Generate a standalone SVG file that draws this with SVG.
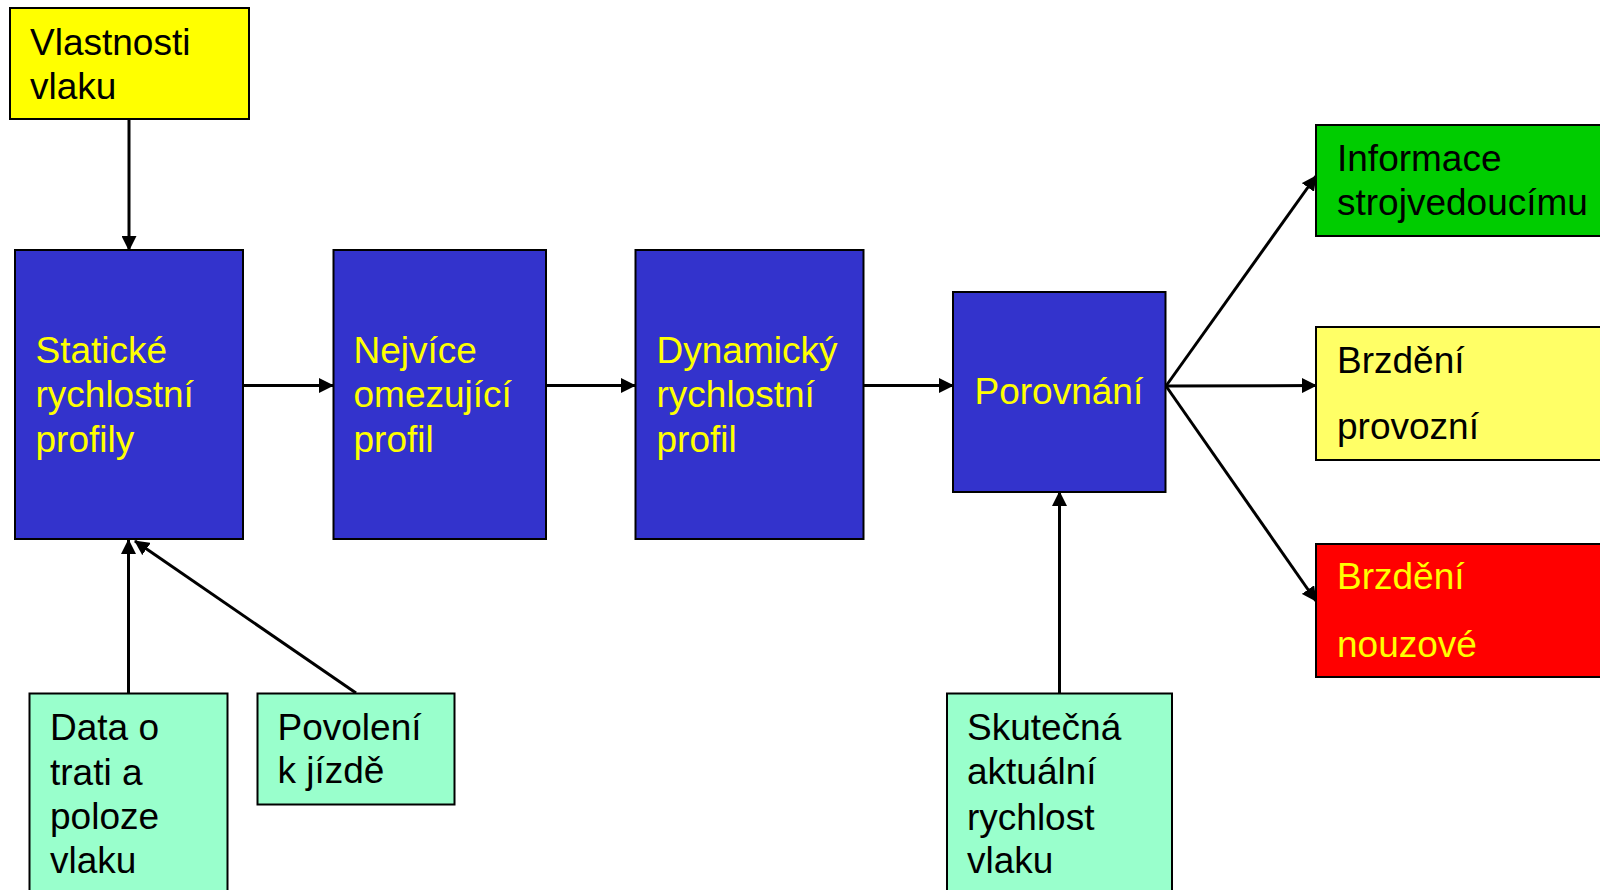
<svg xmlns="http://www.w3.org/2000/svg" width="1600" height="890" viewBox="0 0 1600 890">
<style>
.box{stroke:#000;stroke-width:2}
.t{font-family:"Liberation Sans",Arial,sans-serif;font-size:37px}
.k{fill:#000}
.y{fill:#FFFF00}
.c{stroke:#000;stroke-width:3;fill:none;marker-end:url(#ah)}
</style>
<defs>
<marker id="ah" markerUnits="userSpaceOnUse" markerWidth="15" markerHeight="15" refX="14" refY="7.5" orient="auto" viewBox="0 0 15 15">
<path d="M0,0 L15,7.5 L0,15 z" fill="#000"/>
</marker>
</defs>
<rect width="1600" height="890" fill="#fff"/>
<g id="connectors">
<line class="c" x1="129" y1="119" x2="129" y2="250"/>
<line class="c" x1="243" y1="385.5" x2="333" y2="385.5"/>
<line class="c" x1="546" y1="385.5" x2="635" y2="385.5"/>
<line class="c" x1="863" y1="385.5" x2="953" y2="385.5"/>
<line class="c" x1="1166" y1="386" x2="1316" y2="176"/>
<line class="c" x1="1166" y1="386" x2="1316" y2="385.5"/>
<line class="c" x1="1166" y1="386" x2="1316" y2="601"/>
<line class="c" x1="128.5" y1="693" x2="128.5" y2="540"/>
<line class="c" x1="356" y1="693" x2="135" y2="541"/>
<line class="c" x1="1059.5" y1="693" x2="1059.5" y2="492"/>
</g>
<g id="vlastnosti">
<rect class="box" x="10" y="8" width="239" height="111" fill="#FFFF00"/>
<text class="t k" x="30" y="55">Vlastnosti</text>
<text class="t k" x="30" y="99">vlaku</text>
</g>
<g id="staticke">
<rect class="box" x="15" y="250" width="228" height="289" fill="#3333CC"/>
<text class="t y" x="35.5" y="363">Statické</text>
<text class="t y" x="35.5" y="407">rychlostní</text>
<text class="t y" x="35.5" y="452">profily</text>
</g>
<g id="nejvice">
<rect class="box" x="333.5" y="250" width="212.5" height="289" fill="#3333CC"/>
<text class="t y" x="353.5" y="363">Nejvíce</text>
<text class="t y" x="353.5" y="407">omezující</text>
<text class="t y" x="353.5" y="452">profil</text>
</g>
<g id="dynamicky">
<rect class="box" x="635.5" y="250" width="228" height="289" fill="#3333CC"/>
<text class="t y" x="656.5" y="363">Dynamický</text>
<text class="t y" x="656.5" y="407">rychlostní</text>
<text class="t y" x="656.5" y="452">profil</text>
</g>
<g id="porovnani">
<rect class="box" x="953" y="292" width="212.5" height="200" fill="#3333CC"/>
<text class="t y" x="974.5" y="404">Porovnání</text>
</g>
<g id="informace">
<rect class="box" x="1316" y="125" width="300" height="111" fill="#00CC00"/>
<text class="t k" x="1337" y="171">Informace</text>
<text class="t k" x="1337" y="215">strojvedoucímu</text>
</g>
<g id="brzdeni-provozni">
<rect class="box" x="1316" y="327" width="300" height="133" fill="#FFFF66"/>
<text class="t k" x="1337" y="372.5">Brzdění</text>
<text class="t k" x="1337" y="439">provozní</text>
</g>
<g id="brzdeni-nouzove">
<rect class="box" x="1316" y="544" width="300" height="133" fill="#FF0000"/>
<text class="t y" x="1337" y="589">Brzdění</text>
<text class="t y" x="1337" y="657">nouzové</text>
</g>
<g id="data">
<rect class="box" x="29.5" y="693.5" width="198" height="210" fill="#99FFCC"/>
<text class="t k" x="50" y="740">Data o</text>
<text class="t k" x="50" y="785">trati a</text>
<text class="t k" x="50" y="828.5">poloze</text>
<text class="t k" x="50" y="873">vlaku</text>
</g>
<g id="povoleni">
<rect class="box" x="257.5" y="693.5" width="197" height="111" fill="#99FFCC"/>
<text class="t k" x="277.5" y="740">Povolení</text>
<text class="t k" x="277.5" y="783">k jízdě</text>
</g>
<g id="skutecna">
<rect class="box" x="947" y="693.5" width="225" height="210" fill="#99FFCC"/>
<text class="t k" x="967" y="739.5">Skutečná</text>
<text class="t k" x="967" y="784">aktuální</text>
<text class="t k" x="967" y="830">rychlost</text>
<text class="t k" x="967" y="873">vlaku</text>
</g>
</svg>
